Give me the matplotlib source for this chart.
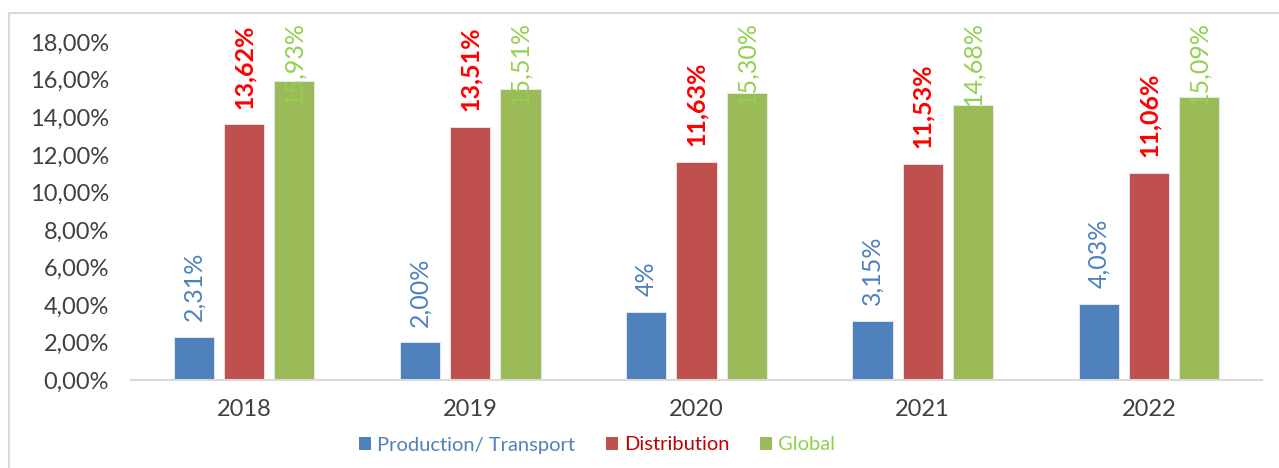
import matplotlib
matplotlib.use("Agg")
import matplotlib.pyplot as plt
from matplotlib.patches import Rectangle, Patch
from matplotlib.ticker import FuncFormatter
import numpy as np

plt.rcParams['font.family'] = ['Lato', 'DejaVu Sans']

years = ['2018', '2019', '2020', '2021', '2022']
series = ['Production/ Transport', 'Distribution', 'Global']
production = [2.31, 2.00, 3.65, 3.15, 4.03]
distribution = [13.62, 13.51, 11.63, 11.53, 11.06]
global_ = [15.93, 15.51, 15.30, 14.68, 15.09]
prod_labels = ['2,31%', '2,00%', '4%', '3,15%', '4,03%']
dist_labels = ['13,62%', '13,51%', '11,63%', '11,53%', '11,06%']
glob_labels = ['15,93%', '15,51%', '15,30%', '14,68%', '15,09%']
y_ticks = [0, 2, 4, 6, 8, 10, 12, 14, 16, 18]

bar_colors = ['#4F81BD', '#C0504D', '#9BBB59']
label_colors = ['#4F81BD', '#FF0000', '#92D050']
label_weights = ['normal', 'bold', 'normal']
legend_colors = ['#4F81BD', '#C00000', '#92D050']
text_gray = '#404040'

W, H = 1279, 468
fig = plt.figure(figsize=(W / 100, H / 100), dpi=100)
ax = fig.add_axes([131 / W, 1 - 380 / H, (1262 - 131) / W, (380 - 42.3) / H])

x = np.arange(len(years))
width = 0.177
offsets = [-0.222, 0, 0.222]
data = [production, distribution, global_]
labels = [prod_labels, dist_labels, glob_labels]

texts = []
for k in range(3):
    ax.bar(x + offsets[k], data[k], width, color=bar_colors[k],
           edgecolor='#E8ECF2', linewidth=0.6, zorder=2)
    for i in range(len(years)):
        t = ax.annotate(labels[k][i], (x[i] + offsets[k], data[k][i]),
                        xytext=(0, 11.5), textcoords='offset points',
                        rotation=90, ha='center', va='bottom',
                        fontsize=18, color=label_colors[k], fontweight=label_weights[k],
                        annotation_clip=False, zorder=3)
        texts.append(t)

ax.set_xlim(-0.5, len(years) - 0.5)
ax.set_ylim(0, 18)
ax.set_yticks(y_ticks)
ax.yaxis.set_major_formatter(FuncFormatter(lambda v, p: f'{v:.2f}'.replace('.', ',') + '%'))
ax.set_xticks(x)
ax.set_xticklabels(years)
ax.tick_params(axis='both', length=0, labelsize=17, labelcolor=text_gray)
ax.tick_params(axis='y', pad=16)
ax.tick_params(axis='x', pad=14)
for s in ['left', 'right', 'top']:
    ax.spines[s].set_visible(False)
ax.spines['bottom'].set_color('#D9D9D9')
ax.spines['bottom'].set_linewidth(1.5)

# labels that would run off the top are pushed down, like Excel does
fig.canvas.draw()
r = fig.canvas.get_renderer()
top_px = H - 21
for t in texts:
    bb = t.get_window_extent(r)
    if bb.y1 > top_px:
        shift = (bb.y1 - top_px) * 72 / 100
        ox, oy = t.xyann
        t.xyann = (ox, oy - shift)

handles = [Patch(facecolor=c) for c in bar_colors]
fig.legend(handles, series, loc='center', bbox_to_anchor=(597 / W, 1 - 445 / H),
           ncol=3, frameon=False, fontsize=14.5, labelcolor=legend_colors,
           handlelength=0.6, handleheight=0.6, handletextpad=0.3,
           columnspacing=1.5)

fig.patches.append(Rectangle((9 / W, -0.1), 2, 1.1 - 13 / H, transform=fig.transFigure,
                             fill=False, edgecolor='#D9D9D9', linewidth=1.5))

fig.savefig('out.png', dpi=100)
